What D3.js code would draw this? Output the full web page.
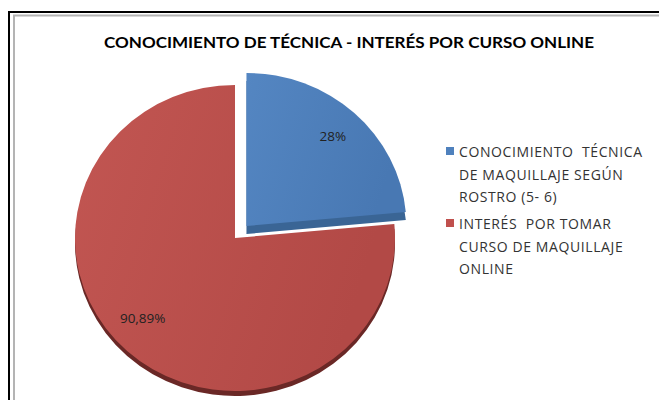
<!DOCTYPE html>
<html>
<head>
<meta charset="utf-8">
<script src="https://cdn.jsdelivr.net/npm/d3@7"></script>
<style>
html,body{margin:0;padding:0;background:#fff;}
svg{display:block;}
</style>
</head>
<body>
<svg id="chart" width="659" height="400"></svg>
<script>
const title = "CONOCIMIENTO DE TÉCNICA - INTERÉS POR CURSO ONLINE";
const categories = ["CONOCIMIENTO TÉCNICA DE MAQUILLAJE SEGÚN ROSTRO (5- 6)", "INTERÉS POR TOMAR CURSO DE MAQUILLAJE ONLINE"];
const legendLines = [["CONOCIMIENTO  TÉCNICA", "DE MAQUILLAJE SEGÚN", "ROSTRO (5- 6)"], ["INTERÉS  POR TOMAR", "CURSO DE MAQUILLAJE", "ONLINE"]];
const values = [28, 90.89];
const valueLabels = ["28%", "90,89%"];
const colors = ["#4F81BD", "#C0504D"];

const svg = d3.select("#chart");
const defs = svg.append("defs");

// frame
svg.append("rect").attr("x", 9).attr("y", 12).attr("width", 700).attr("height", 420)
  .attr("fill", "none").attr("stroke", "#000").attr("stroke-width", 2);
svg.append("rect").attr("x", 14).attr("y", 15.5).attr("width", 700).attr("height", 420)
  .attr("fill", "none").attr("stroke", "#b4b4b4").attr("stroke-width", 2);

// title
svg.append("text").attr("x", 349).attr("y", 48).attr("text-anchor", "middle")
  .attr("font-family", "Lato, 'Open Sans', sans-serif").attr("font-weight", "bold")
  .attr("font-size", 15).attr("fill", "#000")
  .attr("textLength", 490).attr("lengthAdjust", "spacingAndGlyphs")
  .text(title);

// gradients
const grads = [
  {id: "gBlue", c0: "#5486C2", c1: "#4878B3"},
  {id: "gRed", c0: "#C25652", c1: "#B24946"}
];
grads.forEach(g => {
  const lg = defs.append("linearGradient").attr("id", g.id)
    .attr("x1", "0%").attr("y1", "0%").attr("x2", "100%").attr("y2", "30%");
  lg.append("stop").attr("offset", "0%").attr("stop-color", g.c0);
  lg.append("stop").attr("offset", "100%").attr("stop-color", g.c1);
});
const topFill = ["url(#gBlue)", "url(#gRed)"];
const sideFill = ["#3A6595", "#6A2826"];

const cx = 235, cy = 238, rx = 160, ry = 153, depth = 5, explode = 17;
const sy = ry / rx;

const pie = d3.pie().sort(null).value(d => d)(values);
const arc = d3.arc().innerRadius(0).outerRadius(rx);
const labelArc = d3.arc().innerRadius(rx * 0.8).outerRadius(rx * 0.8);

function offset(d, i) {
  if (i !== 0) return [0, 0];
  const a = (d.startAngle + d.endAngle) / 2;
  return [Math.sin(a) * explode, -Math.cos(a) * explode];
}

const sideDepth = [8, depth];
const order = [1, 0];
order.forEach(i => {
  const d = pie[i];
  const [ox, oy] = offset(d, i);
  const g = svg.append("g");
  g.append("path")
    .attr("transform", `translate(${cx + ox},${cy + oy * sy + sideDepth[i]}) scale(1,${sy})`)
    .attr("d", arc(d)).attr("fill", sideFill[i]);
  g.append("path")
    .attr("transform", `translate(${cx + ox},${cy + oy * sy}) scale(1,${sy})`)
    .attr("d", arc(d)).attr("fill", topFill[i]);
});

// value labels
const labelNudge = [[0, 0], [-6, -10]];
pie.forEach((d, i) => {
  const [ox, oy] = offset(d, i);
  const [lx, ly] = labelArc.centroid(d);
  svg.append("text")
    .attr("x", cx + ox + lx + labelNudge[i][0]).attr("y", cy + (oy + ly) * sy + 5 + labelNudge[i][1])
    .attr("text-anchor", "middle")
    .attr("font-family", "'Open Sans', sans-serif").attr("font-size", 13.5)
    .attr("fill", "#222").text(valueLabels[i]);
});

// legend
const legX = 446, legY = [152, 224], lineH = 22.5;
categories.forEach((c, i) => {
  const g = svg.append("g");
  g.append("rect").attr("x", legX).attr("y", legY[i] - 5).attr("width", 8).attr("height", 8)
    .attr("fill", colors[i]);
  legendLines[i].forEach((t, k) => {
    g.append("text").attr("x", legX + 13).attr("y", legY[i] + 5 + k * lineH)
      .attr("font-family", "'Open Sans', sans-serif").attr("font-size", 14)
      .attr("letter-spacing", 0.6)
      .attr("fill", "#333").attr("xml:space", "preserve").style("white-space", "pre")
      .text(t);
  });
});
</script>
</body>
</html>
